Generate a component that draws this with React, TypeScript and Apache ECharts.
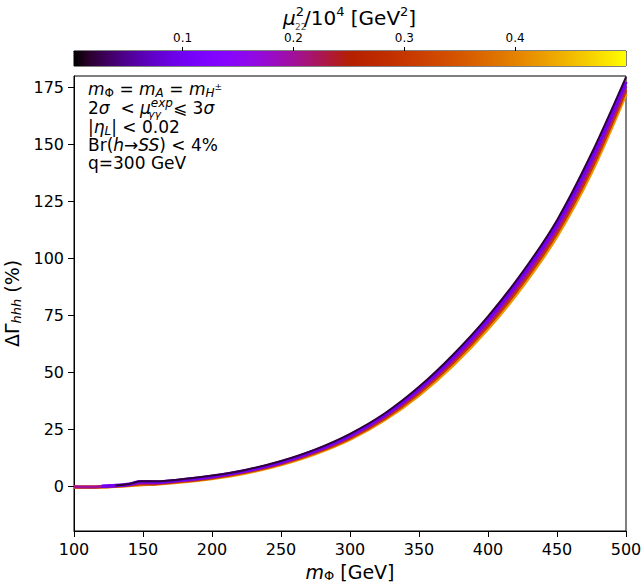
import React, { useEffect, useRef } from "react";
import * as echarts from "echarts";

// m_Phi knots [GeV]
const massKnots = [100, 110, 120, 130, 140, 148, 160, 175, 200, 225, 250, 275, 300, 325, 350, 375, 400, 425, 450, 475, 500];
// Delta Gamma_hhh (%) read along the band, one curve per mu22^2/10^4 level
const dGammaMu002 = [null, null, null, 0.5, 1.1, 2.3, 2.3, 3.0, 4.8, 7.4, 11.2, 16.3, 23.1, 32.0, 43.7, 58.0, 74.6, 94.0, 116.8, 146, 179.5];
const dGammaMu010 = [null, null, 0.1, 0.4, 1.0, 2.1, 2.0, 2.7, 4.4, 7.0, 10.7, 15.8, 22.4, 31.3, 42.8, 56.8, 73.2, 92.4, 115, 143.8, 177.5];
const dGammaMu020 = [-0.1, -0.2, 0, 0.3, 0.8, 1.5, 1.6, 2.4, 4.1, 6.7, 10.3, 15.3, 21.9, 30.6, 41.9, 55.6, 71.8, 90.7, 113, 141.5, 175.5];
const dGammaMu030 = [-0.2, -0.2, -0.1, 0.2, 0.6, 1.1, 1.3, 2.1, 3.8, 6.4, 10.0, 14.9, 21.3, 29.9, 41.0, 54.5, 70.5, 89.2, 111.3, 139.5, 173.8];
const dGammaMu042 = [-0.3, -0.3, -0.2, 0.1, 0.4, 0.8, 1.1, 1.8, 3.5, 6.0, 9.6, 14.4, 20.7, 29.2, 40.1, 53.4, 69.2, 87.8, 109.8, 137.8, 172.2];
const mu22Levels = [0.42, 0.3, 0.2, 0.1, 0.02];
const bandCurves = [dGammaMu042, dGammaMu030, dGammaMu020, dGammaMu010, dGammaMu002];

const xTicks = [100, 150, 200, 250, 300, 350, 400, 450, 500];
const yTicks = [0, 25, 50, 75, 100, 125, 150, 175];
const cbTicks = [0.1, 0.2, 0.3, 0.4];
const cbMin = 0.002;
const cbMax = 0.5;

const FONT = "DejaVu Sans";

function gnuplot(t: number): string {
  const c = Math.max(0, Math.min(1, t));
  const r = Math.sqrt(c);
  const g = c * c * c;
  const b = Math.max(0, Math.sin(2 * Math.PI * c));
  return `rgb(${Math.round(r * 255)},${Math.round(g * 255)},${Math.round(b * 255)})`;
}
const levelColor = (mu: number) => gnuplot((mu - cbMin) / (cbMax - cbMin));
const lineWidths = [3.4, 3.2, 3, 3.5, 2];

export default function App() {
  const ref = useRef<HTMLDivElement>(null);
  useEffect(() => {
    if (!ref.current) return;
    const chart = echarts.init(ref.current, undefined, { renderer: "svg" });
    const stops = [];
    for (let i = 0; i <= 40; i++) stops.push({ offset: i / 40, color: gnuplot(i / 40) });

    const lineSeries = bandCurves.map((ys, k) => ({
      type: "line",
      xAxisIndex: 0,
      yAxisIndex: 0,
      smooth: 0.3,
      showSymbol: false,
      silent: true,
      data: massKnots.map((m, i) => [m, ys[i]]),
      lineStyle: { color: levelColor(mu22Levels[k]), width: lineWidths[k] },
      z: 2 + k,
    }));

    const labelBase = { fontFamily: FONT, color: "#000" };
    const FS = 17;
    const txt = (x: number, y: number, text: string) => ({
      type: "text",
      x,
      y,
      z: 100,
      style: {
        text,
        fontFamily: FONT,
        fontSize: FS,
        fill: "#000",
        verticalAlign: "middle",
        rich: {
          n: { fontFamily: FONT, fontSize: FS, color: "#000" },
          i: { fontFamily: FONT, fontSize: FS, fontStyle: "italic", color: "#000" },
          s: { fontFamily: FONT, fontSize: 12, color: "#000", padding: [8, 0, 0, 0] },
          si: { fontFamily: FONT, fontSize: 12, fontStyle: "italic", color: "#000", padding: [8, 0, 0, 0] },
          ssi: { fontFamily: FONT, fontSize: 9, color: "#000", padding: [0, 0, 4, 0] },
          sup: { fontFamily: FONT, fontSize: 12, fontStyle: "italic", color: "#000", padding: [0, 0, 10, 0] },
        },
      },
    });

    chart.setOption({
      animation: false,
      grid: [
        { left: 74, right: 16, top: 76, bottom: 56, show: true, borderColor: "#000", borderWidth: 1, backgroundColor: "transparent", outerBoundsMode: "none", containLabel: false },
        { left: 74, right: 16, top: 51, height: 15, show: true, borderColor: "#000", borderWidth: 1, backgroundColor: "transparent", outerBoundsMode: "none", containLabel: false },
      ],
      xAxis: [
        {
          gridIndex: 0,
          type: "value",
          min: 100,
          max: 500,
          interval: 50,
          splitLine: { show: false },
          axisLine: { show: true, onZero: false, lineStyle: { color: "#000" } },
          axisTick: { show: true, length: 6, customValues: xTicks, lineStyle: { color: "#000" } },
          axisLabel: { ...labelBase, fontSize: 16, margin: 10, customValues: xTicks },
          name: "{i|m}{s|Φ}{n| [GeV]}",
          nameLocation: "middle",
          nameGap: 30,
          nameTextStyle: {
            ...labelBase,
            fontSize: 19,
            rich: {
              n: { fontFamily: FONT, fontSize: 19, color: "#000" },
              i: { fontFamily: FONT, fontSize: 19, fontStyle: "italic", color: "#000" },
              s: { fontFamily: FONT, fontSize: 13, color: "#000", padding: [8, 0, 0, 0] },
            },
          },
        },
        {
          gridIndex: 1,
          type: "value",
          position: "top",
          min: cbMin,
          max: cbMax,
          splitLine: { show: false },
          axisLine: { show: true, onZero: false, lineStyle: { color: "#000" } },
          axisTick: { show: true, length: 4, customValues: cbTicks, lineStyle: { color: "#000" } },
          axisLabel: { ...labelBase, fontSize: 12, margin: 7, customValues: cbTicks, formatter: (v: number) => v.toFixed(1) },
        },
      ],
      yAxis: [
        {
          gridIndex: 0,
          type: "value",
          min: -19.5,
          max: 180,
          splitLine: { show: false },
          axisLine: { show: true, onZero: false, lineStyle: { color: "#000" } },
          axisTick: { show: true, length: 6, customValues: yTicks, lineStyle: { color: "#000" } },
          axisLabel: { ...labelBase, fontSize: 16, margin: 10, customValues: yTicks },
          name: "{n|ΔΓ}{s|hhh}{n| (%)}",
          nameLocation: "middle",
          nameGap: 45,
          nameRotate: 90,
          nameTextStyle: {
            ...labelBase,
            fontSize: 19,
            rich: {
              n: { fontFamily: FONT, fontSize: 19, color: "#000" },
              s: { fontFamily: FONT, fontSize: 13, fontStyle: "italic", color: "#000", padding: [8, 0, 0, 0] },
            },
          },
        },
        {
          gridIndex: 1,
          type: "category",
          data: ["cb"],
          show: false,
        },
      ],
      series: [
        ...lineSeries,
        {
          type: "bar",
          xAxisIndex: 1,
          yAxisIndex: 1,
          data: [cbMax],
          barWidth: "100%",
          silent: true,
          itemStyle: { color: new echarts.graphic.LinearGradient(0, 0, 1, 0, stops) },
        },
      ],
      graphic: [
        txt(88, 89, "{i|m}{s|Φ}{n| = }{i|m}{si|A}{n| = }{i|m}{si|H}{ssi|±}"),
        txt(88, 108, "{n|2}{i|σ}{n|  < }{i|μ}{sup|exp}{n|⩽ 3}{i|σ}"),
        { type: "text", x: 148, y: 114, z: 99, style: { text: "γγ", fontFamily: FONT, fontSize: 11, fontStyle: "italic", fill: "#000", verticalAlign: "middle" } },
        txt(88, 127, "{n||}{i|η}{si|L}{n|| < 0.02}"),
        txt(88, 145, "{n|Br(}{i|h}{n|→}{i|SS}{n|) < 4%}"),
        txt(88, 163, "{n|q=300 GeV}"),
        {
          type: "text",
          x: 283,
          y: 18,
          z: 100,
          style: {
            text: "{i|μ}{sup|2}{n|/10}{sup|4}{n| [GeV}{sup|2}{n|]}",
            verticalAlign: "middle",
            rich: {
              n: { fontFamily: FONT, fontSize: 20, color: "#000" },
              i: { fontFamily: FONT, fontSize: 20, fontStyle: "italic", color: "#000" },
              sup: { fontFamily: FONT, fontSize: 13, color: "#000", padding: [0, 0, 14, 0] },
            },
          },
        },
        { type: "text", x: 295, y: 27, z: 99, style: { text: "22", fontFamily: FONT, fontSize: 9, fill: "#555", verticalAlign: "middle" } },
      ],
    });
    return () => chart.dispose();
  }, []);
  return <div ref={ref} style={{ position: "absolute", left: 0, top: 0, width: 642, height: 587 }} />;
}
